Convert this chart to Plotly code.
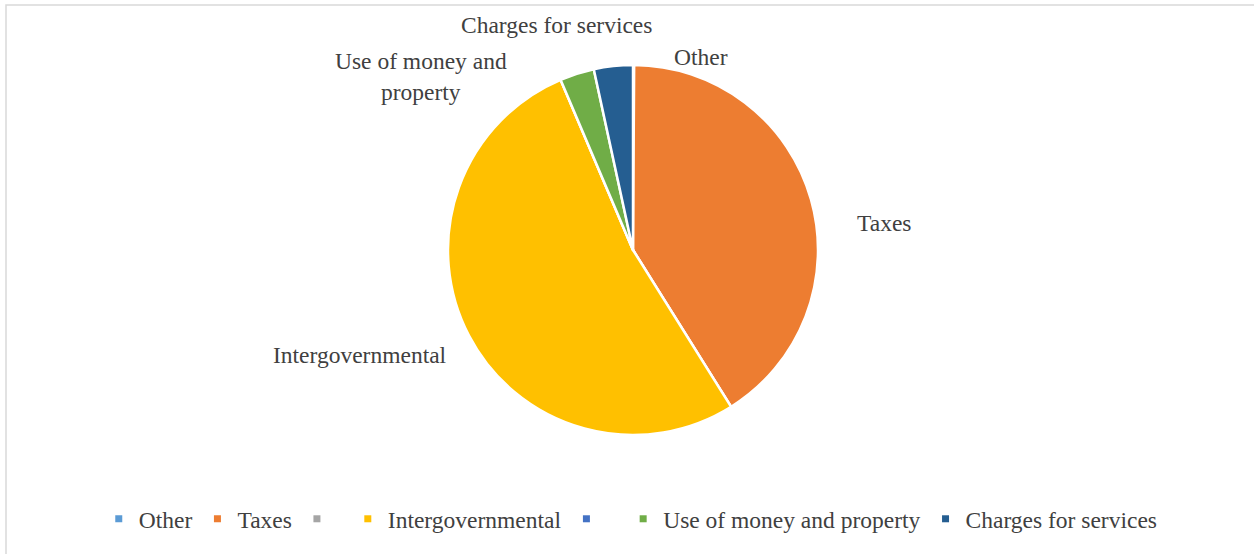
import plotly.graph_objects as go

# Revenue shares by source (percent of total)
categories = ["Other", "Taxes", " ", "Intergovernmental", "  ",
              "Use of money and property", "Charges for services"]
shares = [0.1, 41.0, 0.0, 52.5, 0.0, 3.0, 3.4]
colors = ["#5B9BD5", "#ED7D31", "#A5A5A5", "#FFC000", "#4472C4",
          "#70AD47", "#255E91"]

# Outside slice labels: (text, x px, y px) in the 1254x554 canvas
label_texts = ["Other", "Taxes", "Intergovernmental",
               "Use of money and<br>property", "Charges for services"]
label_pos = [(701, 57), (884, 223), (360, 355), (421, 77), (556, 25)]

W, H = 1254, 554
FONT = "Liberation Serif"
TEXT = "#404040"

fig = go.Figure()

cx, cy, r = 633, 250, 185
fig.add_trace(go.Pie(
    labels=categories,
    values=shares,
    sort=False,
    direction="clockwise",
    rotation=0,
    marker=dict(colors=colors, line=dict(color="white", width=2.5)),
    textinfo="none",
    hoverinfo="label+percent",
    showlegend=False,
    domain=dict(x=[(cx - r) / W, (cx + r) / W],
                y=[1 - (cy + r) / H, 1 - (cy - r) / H]),
))

# Legend entries with small square swatches
for name, col in zip(categories, colors):
    fig.add_trace(go.Scatter(
        x=[None], y=[None], mode="markers", name=name,
        marker=dict(symbol="square", size=7, color=col),
        showlegend=True,
    ))

for txt, (px, py) in zip(label_texts, label_pos):
    fig.add_annotation(
        x=px / W, y=1 - py / H, xref="paper", yref="paper",
        text=txt, showarrow=False, xanchor="center", yanchor="middle",
        align="center", font=dict(family=FONT, size=23.5, color=TEXT),
    )

# Chart-area frame
fig.add_shape(type="rect", xref="paper", yref="paper",
              x0=6 / W, x1=1.01, y0=-0.01, y1=1 - 5 / H,
              line=dict(color="#D9D9D9", width=1.5))

fig.update_layout(
    width=W, height=H,
    margin=dict(l=0, r=0, t=0, b=0),
    paper_bgcolor="white", plot_bgcolor="white",
    xaxis=dict(visible=False), yaxis=dict(visible=False),
    legend=dict(
        orientation="h", x=0.503, xanchor="center",
        y=1 - 519 / H, yanchor="middle",
        font=dict(family=FONT, size=23.5, color=TEXT),
        itemwidth=30, tracegroupgap=0,
        bgcolor="rgba(0,0,0,0)",
    ),
)

fig.write_html("out.html")
